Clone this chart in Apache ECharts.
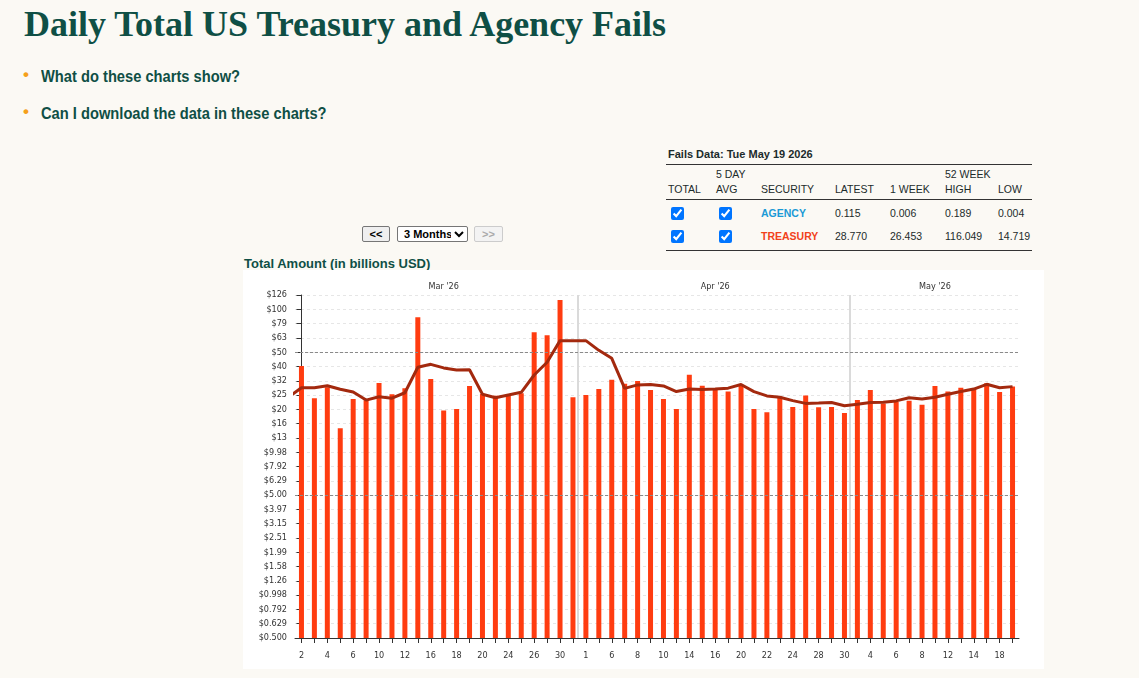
<!DOCTYPE html>
<html><head><meta charset="utf-8">
<script src="https://cdn.jsdelivr.net/npm/echarts@6/dist/echarts.min.js"></script>
<style>
html,body{margin:0;padding:0;width:1139px;height:678px;background:#fbf9f4;overflow:hidden;font-family:'Liberation Sans',Arial,sans-serif;}
.abs{position:absolute;white-space:nowrap;}
#title{left:24px;top:4px;margin:0;font:bold 36px/40px 'Liberation Serif','Times New Roman',serif;color:#0f4f45;}
.dot{color:#f5a01a;font:bold 17px/20px 'Liberation Sans',Arial,sans-serif;left:23px;}
.btxt{left:41px;font:bold 16.5px/20px 'Liberation Sans',Arial,sans-serif;color:#0f4f45;transform:scaleX(0.89);transform-origin:left center;}
#sub{left:244px;top:256px;font:bold 13px/16px 'Liberation Sans',Arial,sans-serif;color:#0f4f45;}
#fd{left:668px;top:147px;font:bold 11px/14px 'Liberation Sans',Arial,sans-serif;color:#1c2b2b;}
.cell{font:10.5px/14px 'Liberation Sans',Arial,sans-serif;color:#1c2b2b;}
.hline{position:absolute;left:666px;width:366px;height:1px;background:#333;}
.cb{position:absolute;width:13px;height:13px;margin:0;}
.btn{position:absolute;box-sizing:border-box;font:bold 11px 'Liberation Sans',Arial,sans-serif;border:1px solid #767676;border-radius:2px;background:#efefef;color:#000;padding:0;text-align:center;}
#chart{position:absolute;left:243px;top:270px;width:801px;height:399px;background:#fff;}
</style></head>
<body>
<div id="title" class="abs">Daily Total US Treasury and Agency Fails</div>
<div class="abs dot" style="top:65px">•</div>
<div class="abs btxt" style="top:66px">What do these charts show?</div>
<div class="abs dot" style="top:102px">•</div>
<div class="abs btxt" style="top:103px">Can I download the data in these charts?</div>

<div id="fd" class="abs">Fails Data: Tue May 19 2026</div>
<div class="hline" style="top:164px"></div>
<div class="hline" style="top:199px"></div>
<div class="hline" style="top:250px"></div>
<div id="tbl"></div>

<button class="btn" style="left:362px;top:226px;width:28px;height:16px;">&lt;&lt;</button>
<select class="btn" style="left:397px;top:226px;width:71px;height:16px;background:#fff;text-align:left;padding-left:2px;"><option>3 Months</option></select>
<button class="btn" disabled style="left:474px;top:226px;width:29px;height:16px;color:#aaa;border-color:#ccc;background:#f3f3f3;">&gt;&gt;</button>

<div id="sub" class="abs">Total Amount (in billions USD)</div>
<div id="chart"></div>
<script>
// ---------------- data ----------------
const dates = [
 '2026-03-02','2026-03-03','2026-03-04','2026-03-05','2026-03-06','2026-03-09','2026-03-10','2026-03-11','2026-03-12','2026-03-13',
 '2026-03-16','2026-03-17','2026-03-18','2026-03-19','2026-03-20','2026-03-23','2026-03-24','2026-03-25','2026-03-26','2026-03-27',
 '2026-03-30','2026-03-31','2026-04-01','2026-04-02','2026-04-06','2026-04-07','2026-04-08','2026-04-09','2026-04-10','2026-04-13',
 '2026-04-14','2026-04-15','2026-04-16','2026-04-17','2026-04-20','2026-04-21','2026-04-22','2026-04-23','2026-04-24','2026-04-27',
 '2026-04-28','2026-04-29','2026-04-30','2026-05-01','2026-05-04','2026-05-05','2026-05-06','2026-05-07','2026-05-08','2026-05-11',
 '2026-05-12','2026-05-13','2026-05-14','2026-05-15','2026-05-18','2026-05-19'];
const treasuryTotal = [
 40.0,23.8,28.4,14.7,23.5,23.0,30.4,25.4,28.0,87.7,
 32.5,19.5,20.0,29.0,25.5,24.8,25.1,25.8,68.9,65.7,
 116.0,24.2,25.1,27.6,32.1,30.1,31.4,27.2,23.5,20.0,
 34.8,29.1,27.9,26.5,29.0,20.0,19.0,24.4,20.7,24.9,
 20.6,20.7,18.8,23.1,27.2,21.9,22.4,22.9,21.4,29.0,
 26.5,28.2,27.9,30.3,26.3,28.8];
const treasuryAvg5 = [
 28.2,28.2,29.1,27.5,26.3,23.1,24.4,23.8,26.0,39.2,
 41.1,38.8,37.5,37.7,25.4,24.0,25.1,26.2,34.6,42.5,
 60.2,60.2,60.2,51.5,45.3,27.9,29.5,29.7,29.0,26.5,
 27.6,27.4,27.6,28.0,29.7,26.5,24.7,24.2,22.9,21.9,
 22.0,22.2,21.1,21.6,22.2,22.3,22.8,24.0,23.5,24.2,
 25.4,26.5,27.6,29.8,28.2,28.7];
const prevDayAvg5 = 24.2;   // 5-day avg of the business day before the window (Feb 27), cut by the axis
const yTickLabels = ['$0.500','$0.629','$0.792','$0.998','$1.26','$1.58','$1.99','$2.51','$3.15','$3.97',
 '$5.00','$6.29','$7.92','$9.98','$13','$16','$20','$25','$32','$40','$50','$63','$79','$100','$126'];
const monthLabels = ["Mar '26","Apr '26","May '26"];
const refLines = [5, 50];
const tableHead1 = ['', '5 DAY', '', '', '', '52 WEEK', ''];
const tableHead2 = ['TOTAL', 'AVG', 'SECURITY', 'LATEST', '1 WEEK', 'HIGH', 'LOW'];
const tableSecurities = ['AGENCY', 'TREASURY'];
const tableLatest = ['0.115', '28.770'];
const tableWeek = ['0.006', '26.453'];
const tableHigh = ['0.189', '116.049'];
const tableLow = ['0.004', '14.719'];

// ---------------- table ----------------
const colX = [668, 716, 761, 835, 890, 945, 998];
const secColors = ['#1a9ad6', '#f2421b'];
let html = '';
const cell = (x, yc, t, extra) => `<div class="abs cell" style="left:${x}px;top:${yc-7}px;${extra||''}">${t}</div>`;
tableHead1.forEach((t, i) => { if (t) html += cell(colX[i], 174, t); });
tableHead2.forEach((t, i) => { html += cell(colX[i], 189, t); });
tableSecurities.forEach((s, r) => {
  const yc = r === 0 ? 213 : 236;
  html += `<input type="checkbox" class="cb" checked style="left:671px;top:${yc-6.5}px">`;
  html += `<input type="checkbox" class="cb" checked style="left:719px;top:${yc-6.5}px">`;
  html += cell(colX[2], yc, s, `font-weight:bold;color:${secColors[r]};`);
  html += cell(colX[3], yc, tableLatest[r]);
  html += cell(colX[4], yc, tableWeek[r]);
  html += cell(colX[5], yc, tableHigh[r]);
  html += cell(colX[6], yc, tableLow[r]);
});
document.getElementById('tbl').innerHTML = html;

// ---------------- chart ----------------
const base = 0.5;
const toY = v => Math.log10(v / base) * 10;
const month = i => dates[i].slice(5, 7);
const dayLabels = dates.map(d => String(+d.slice(8)));
const monthOrder = [...new Set(dates.map(d => d.slice(5, 7)))];
const monthMid = {};
const monthStarts = [];
monthOrder.forEach((m, k) => {
  const idx = dates.map((d, i) => i).filter(i => month(i) === m);
  monthMid[Math.round((idx[0] + idx[idx.length - 1]) / 2)] = monthLabels[k];
  if (idx[0] > 0) monthStarts.push(idx[0]);
});
const n = dates.length;
const lineData = [[-1, toY(prevDayAvg5)]].concat(treasuryAvg5.map((v, i) => [i, toY(v)]));
const font = "'DejaVu Sans Condensed','DejaVu Sans',sans-serif";
const chart = echarts.init(document.getElementById('chart'), null, {renderer: 'canvas'});
chart.setOption({
  animation: false,
  backgroundColor: '#ffffff',
  grid: {left: 52, top: 25, width: 724, height: 343, containLabel: false},
  xAxis: [{
    type: 'category', data: dayLabels, boundaryGap: true,
    axisLine: {show: true, lineStyle: {color: '#333', width: 1}},
    axisTick: {show: true, alignWithLabel: true, interval: 0, length: 5, lineStyle: {color: '#333'}},
    axisLabel: {interval: 1, color: '#333', fontFamily: font, fontSize: 9, margin: 13},
    splitLine: {show: false}
  }, {
    type: 'category', data: dayLabels, position: 'top', boundaryGap: true,
    axisLine: {show: false}, axisTick: {show: false}, splitLine: {show: false},
    axisLabel: {interval: (i) => monthMid[i] !== undefined, formatter: (v, i) => monthMid[i] || '',
      color: '#333', fontFamily: font, fontSize: 9, margin: 4}
  }, {
    type: 'value', min: -0.5, max: n - 0.5, show: false, position: 'bottom',
    splitLine: {show: false}, axisLine: {show: false}, axisTick: {show: false}, axisLabel: {show: false}
  }],
  yAxis: {
    type: 'value', min: 0, max: yTickLabels.length - 1, interval: 1,
    axisLine: {show: true, lineStyle: {color: '#333', width: 1}},
    axisTick: {show: true, length: 5, lineStyle: {color: '#333'}},
    axisLabel: {formatter: v => yTickLabels[Math.round(v)], color: '#333', fontFamily: font, fontSize: 9, margin: 8},
    splitLine: {show: true, lineStyle: {color: '#e6e6e6', type: [3, 3], width: 1}}
  },
  series: [{
    type: 'line', xAxisIndex: 2, data: [], z: 1,
    markLine: {silent: true, symbol: ['none', 'none'], label: {show: false},
      lineStyle: {type: 'solid', color: '#dadada', width: 2},
      data: monthStarts.map(i => ({xAxis: i - 0.6}))}
  }, {
    type: 'bar', xAxisIndex: 0, data: treasuryTotal.map(toY), barWidth: 5, z: 2,
    itemStyle: {color: '#ff3c10'},
    markLine: {silent: true, symbol: ['none', 'none'], label: {show: false},
      lineStyle: {type: [3, 2], color: '#8a8a8a', width: 1},
      data: refLines.map(v => ({yAxis: toY(v)}))}
  }, {
    type: 'line', xAxisIndex: 2, data: lineData, symbol: 'none', showSymbol: false, clip: true,
    lineStyle: {color: '#a3290e', width: 3}, z: 5
  }]
});
</script>
</body></html>
